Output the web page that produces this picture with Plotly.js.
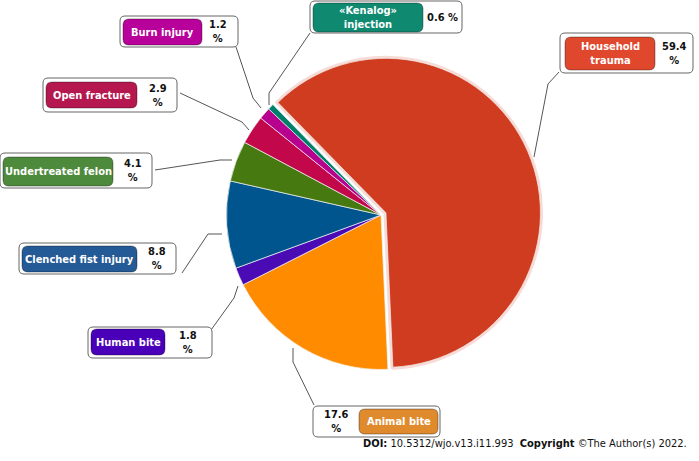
<!DOCTYPE html>
<html><head><meta charset="utf-8">
<script src="https://cdn.plot.ly/plotly-3.0.1.min.js"></script>
<style>html,body{margin:0;padding:0;background:#fff}#chart{width:699px;height:461px}</style>
</head><body><div id="chart"></div>
<script>
// ---- data ----
const categories = ["Household trauma","Animal bite","Human bite","Clenched fist injury","Undertreated felon","Open fracture","Burn injury","«Kenalog» injection"];
const pillLabels = ["Household<br>trauma","Animal bite","Human bite","Clenched fist injury","Undertreated felon","Open fracture","Burn injury","«Kenalog»<br>injection"];
const percentages = [59.4,17.6,1.8,8.8,4.1,2.9,1.2,0.6];

// ---- style ----
const sliceColors = ["#d03c20","#ff8c00","#4a0ab4","#00558f","#467a10","#c2084a","#b8008f","#00806a"];
const pillColors  = ["#e0482e","#e08a2e","#4a00b8","#245a96","#4e8a3c","#b5174f","#b8009a","#0f8a70"];
const FONT = "DejaVu Sans Condensed, DejaVu Sans, sans-serif";

// label box layout in pixels (one per category)
const boxes = [
 {o:[560,33,693,73],  p:[565,37,655,70],  tx:674, one:false, line:[[559,72],[548,84],[534,157]]},
 {o:[313,406,440,437],p:[359,409,438,434],tx:336, one:false, line:[[314,405],[293,362],[293,348]]},
 {o:[88,327,212,358], p:[91,329,165,355], tx:188, one:false, line:[[211,330],[234,298],[238,286]]},
 {o:[19,243,176,274], p:[22,246,137,272], tx:157, one:false, line:[[182,273],[208,234],[222,234]]},
 {o:[0,153,152,188],  p:[3,157,113,186],  tx:133, one:false, line:[[155,170],[220,160],[232,160]]},
 {o:[43,78,177,112],  p:[46,82,137,108],  tx:158, one:false, line:[[180,93],[242,122],[249,130]]},
 {o:[120,16,238,47],  p:[123,19,202,45],  tx:218, one:false, line:[[236,47],[253,98],[261,108]]},
 {o:[310,1,462,33],   p:[313,3,423,32],   tx:442, one:true,  line:[[310,33],[269,93],[269,105]]}
];

function rrect(x0,y0,x1,y1,r){
  return `M${x0+r},${y0} L${x1-r},${y0} Q${x1},${y0} ${x1},${y0+r} L${x1},${y1-r} Q${x1},${y1} ${x1-r},${y1} L${x0+r},${y1} Q${x0},${y1} ${x0},${y1-r} L${x0},${y0+r} Q${x0},${y0} ${x0+r},${y0} Z`;
}

const shapes = [], annotations = [];
boxes.forEach((b,i)=>{
  shapes.push({type:'path', xref:'x', yref:'y', layer:'below',
    path:'M'+b.line.map(p=>p.join(',')).join(' L'), line:{color:'#555',width:1}});
  shapes.push({type:'path', xref:'x', yref:'y', path:rrect(...b.o,5),
    fillcolor:'#fff', line:{color:'#666',width:1}});
  shapes.push({type:'path', xref:'x', yref:'y', path:rrect(...b.p,6),
    fillcolor:pillColors[i], line:{color:'rgba(0,0,0,0.35)',width:1}});
  annotations.push({xref:'x', yref:'y', x:(b.p[0]+b.p[2])/2, y:(b.p[1]+b.p[3])/2,
    text:'<b>'+pillLabels[i]+'</b>', showarrow:false, xanchor:'center', yanchor:'middle',
    font:{family:FONT,size:11,color:'#fff'}});
  const pct = percentages[i].toFixed(1);
  const my = (b.o[1]+b.o[3])/2;
  annotations.push({xref:'x', yref:'y', x:b.tx, y:my,
    text: b.one ? '<b>'+pct+' %</b>' : '<b>'+pct+'<br>%</b>', showarrow:false,
    xanchor:'center', yanchor:'middle', font:{family:FONT,size:11,color:'#111'}});
});
annotations.push({xref:'x', yref:'y', x:689, y:443, xanchor:'right', yanchor:'middle', showarrow:false,
  text:'<b>DOI:</b> 10.5312/wjo.v13.i11.993  <b>Copyright</b> ©The Author(s) 2022.',
  font:{family:FONT,size:11,color:'#111'}});

// pie geometry
const cx=381, cy=215, R=154.5, pull=0.035, W=699, H=461, rot=-44.4;
const half = R*(1+pull);
const dom = {x:[(cx-half)/W,(cx+half)/W], y:[1-(cy+half)/H, 1-(cy-half)/H]};
const pulls = percentages.map((v,i)=>i===0?pull:0);
const glow = {type:'pie', labels:categories, values:percentages, sort:false, direction:'clockwise',
  rotation:rot, pull:pulls, textinfo:'none', hoverinfo:'skip', showlegend:false, domain:dom,
  marker:{colors:percentages.map((v,i)=>i===0?'rgba(220,90,70,0.25)':'rgba(0,0,0,0)'),
          line:{color:percentages.map((v,i)=>i===0?'rgba(220,90,70,0.22)':'rgba(0,0,0,0)'),width:5}}};
const pie = {type:'pie', labels:categories, values:percentages, sort:false, direction:'clockwise',
  rotation:rot, pull:pulls,
  marker:{colors:sliceColors, line:{color:'#f4f4f4',width:0.7}},
  textinfo:'none', hoverinfo:'label+value', showlegend:false, domain:dom};
const dummy = {type:'scatter', x:[0], y:[0], mode:'markers', marker:{opacity:0}, hoverinfo:'skip', showlegend:false};

Plotly.newPlot('chart',[dummy,glow,pie],{
  width:W, height:H, margin:{l:0,r:0,t:0,b:0}, paper_bgcolor:'#fff', plot_bgcolor:'rgba(0,0,0,0)',
  xaxis:{range:[0,W], visible:false, fixedrange:true},
  yaxis:{range:[H,0], visible:false, fixedrange:true},
  shapes:shapes, annotations:annotations, showlegend:false
},{staticPlot:true});
</script></body></html>
